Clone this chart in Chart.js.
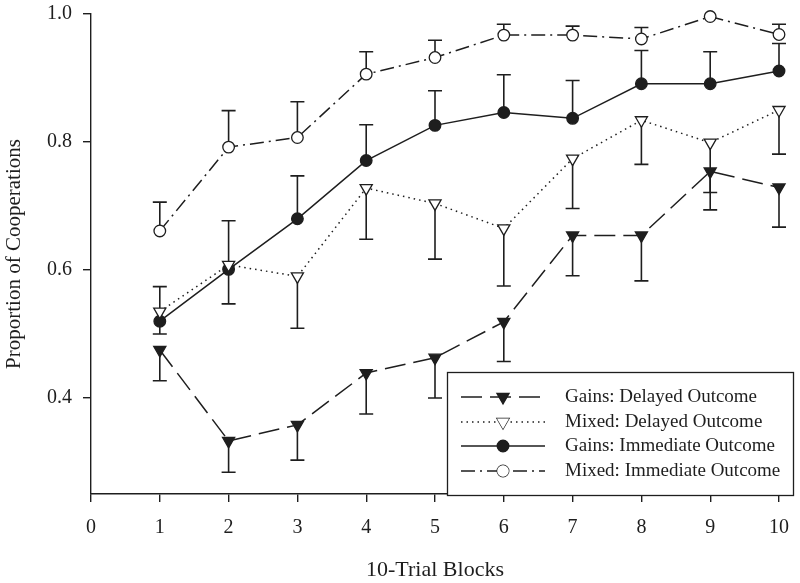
<!DOCTYPE html>
<html>
<head>
<meta charset="utf-8">
<script src="https://cdn.jsdelivr.net/npm/chart.js@4.4.1/dist/chart.umd.min.js"></script>
<style>
  html, body { margin: 0; padding: 0; background: #fff; }
  #wrap { width: 800px; height: 583px; }
</style>
</head>
<body>
<div id="wrap"><canvas id="coopChart" width="800" height="583"></canvas></div>
<script>
const blocks = [1, 2, 3, 4, 5, 6, 7, 8, 9, 10];
const xTicks = [0, 1, 2, 3, 4, 5, 6, 7, 8, 9, 10];
const yTicks = [0.4, 0.6, 0.8, 1.0];

const gainsDelayed    = [0.475, 0.333, 0.358, 0.439, 0.463, 0.519, 0.654, 0.654, 0.754, 0.729];
const gainsDelayedLow = [0.427, 0.284, 0.303, 0.375, 0.400, 0.457, 0.591, 0.583, 0.694, 0.667];

const mixedDelayed    = [0.535, 0.608, 0.590, 0.728, 0.704, 0.665, 0.774, 0.834, 0.799, 0.850];
const mixedDelayedLow = [0.500, 0.547, 0.509, 0.648, 0.617, 0.575, 0.696, 0.765, 0.721, 0.781];

const gainsImmediate     = [0.520, 0.601, 0.680, 0.771, 0.826, 0.846, 0.837, 0.891, 0.891, 0.911];
const gainsImmediateHigh = [0.574, 0.677, 0.747, 0.827, 0.880, 0.905, 0.896, 0.943, 0.941, 0.954];

const mixedImmediate     = [0.661, 0.792, 0.807, 0.906, 0.932, 0.967, 0.967, 0.961, 0.996, 0.968];
const mixedImmediateHigh = [0.706, 0.849, 0.863, 0.941, 0.959, 0.984, 0.981, 0.979, null, 0.984];

const ink = '#1e1e1e';
const serif = "'Liberation Serif', 'Times New Roman', serif";

function pts(values) {
    return blocks.map((b, i) => ({ x: b, y: values[i] }));
}

// whiskers drawn under the lines and markers
const errorBars = {
    id: 'errorBars',
    beforeDatasetsDraw(chart) {
        const ctx = chart.ctx;
        const yScale = chart.scales.y;
        ctx.save();
        ctx.strokeStyle = ink;
        ctx.lineWidth = 1.6;
        ctx.setLineDash([]);
        chart.data.datasets.forEach((ds, di) => {
            const meta = chart.getDatasetMeta(di);
            ds.errorEnds.forEach((end, i) => {
                if (end == null) return;
                const p = meta.data[i];
                const yEnd = yScale.getPixelForValue(end);
                ctx.beginPath();
                ctx.moveTo(p.x, p.y);
                ctx.lineTo(p.x, yEnd);
                ctx.moveTo(p.x - 7, yEnd);
                ctx.lineTo(p.x + 7, yEnd);
                ctx.stroke();
            });
        });
        ctx.restore();
    }
};

// boxed legend sitting over the lower right of the plot
const boxLegend = {
    id: 'boxLegend',
    afterDraw(chart) {
        const ctx = chart.ctx;
        const box = { x: 447, y: 372, w: 346, h: 123 };
        const rows = [397, 422, 446, 471];
        ctx.save();
        ctx.fillStyle = '#fff';
        ctx.fillRect(box.x, box.y, box.w, box.h);
        ctx.strokeStyle = ink;
        ctx.lineWidth = 1.3;
        ctx.strokeRect(box.x + 0.5, box.y + 0.5, box.w, box.h);
        chart.data.datasets.forEach((ds, i) => {
            const y = rows[i];
            ctx.strokeStyle = ink;
            ctx.lineWidth = ds.borderWidth;
            ctx.setLineDash(ds.borderDash || []);
            ctx.beginPath();
            ctx.moveTo(461, y);
            ctx.lineTo(545, y);
            ctx.stroke();
            ctx.setLineDash([]);
            ctx.fillStyle = ds.pointBackgroundColor;
            ctx.lineWidth = 1.3;
            Chart.helpers.drawPoint(ctx, {
                pointStyle: ds.pointStyle,
                radius: ds.pointRadius,
                rotation: ds.pointRotation || 0,
                borderWidth: 1.3
            }, 503, y);
            ctx.fill();
            ctx.fillStyle = ink;
            ctx.font = '19px ' + serif;
            ctx.textBaseline = 'middle';
            ctx.fillText(ds.label, 565, y);
        });
        ctx.restore();
    }
};

new Chart(document.getElementById('coopChart').getContext('2d'), {
    type: 'line',
    data: {
        datasets: [{
            label: 'Gains: Delayed Outcome',
            data: pts(gainsDelayed),
            errorEnds: gainsDelayedLow,
            borderColor: ink,
            borderWidth: 1.5,
            borderDash: [21, 8],
            pointStyle: 'triangle',
            pointRotation: 180,
            pointRadius: 7,
            pointBackgroundColor: ink,
            pointBorderColor: ink,
            pointBorderWidth: 1.3,
            clip: false
        }, {
            label: 'Mixed: Delayed Outcome',
            data: pts(mixedDelayed),
            errorEnds: mixedDelayedLow,
            borderColor: ink,
            borderWidth: 1.5,
            borderDash: [1.5, 4],
            pointStyle: 'triangle',
            pointRotation: 180,
            pointRadius: 7,
            pointBackgroundColor: '#fff',
            pointBorderColor: ink,
            pointBorderWidth: 1.3,
            clip: false
        }, {
            label: 'Gains: Immediate Outcome',
            data: pts(gainsImmediate),
            errorEnds: gainsImmediateHigh,
            borderColor: ink,
            borderWidth: 1.5,
            pointStyle: 'circle',
            pointRadius: 5.8,
            pointBackgroundColor: ink,
            pointBorderColor: ink,
            pointBorderWidth: 1.3,
            clip: false
        }, {
            label: 'Mixed: Immediate Outcome',
            data: pts(mixedImmediate),
            errorEnds: mixedImmediateHigh,
            borderColor: ink,
            borderWidth: 1.5,
            borderDash: [14, 5, 2, 5],
            pointStyle: 'circle',
            pointRadius: 5.8,
            pointBackgroundColor: '#fff',
            pointBorderColor: ink,
            pointBorderWidth: 1.3,
            clip: false
        }]
    },
    options: {
        responsive: false,
        animation: false,
        events: [],
        layout: { padding: { left: 0, right: 21, top: 14, bottom: 0 } },
        plugins: {
            legend: { display: false },
            tooltip: { enabled: false }
        },
        scales: {
            x: {
                type: 'linear',
                min: 0,
                max: 10,
                afterBuildTicks: s => { s.ticks = xTicks.map(v => ({ value: v })); },
                afterFit: s => { s.height = 89; s.paddingLeft = 0; s.paddingRight = 0; },
                border: { display: true, color: ink, width: 1.4 },
                grid: { drawOnChartArea: false, drawTicks: true, tickLength: 8, color: ink, lineWidth: 1.4 },
                ticks: { color: ink, padding: 14, font: { family: serif, size: 20 } },
                title: {
                    display: true,
                    text: '10-Trial Blocks',
                    color: ink,
                    padding: { top: 0, bottom: 0 },
                    font: { family: serif, size: 22 }
                }
            },
            y: {
                type: 'linear',
                min: 0.25,
                max: 1.0,
                afterBuildTicks: s => { s.ticks = yTicks.map(v => ({ value: v })); },
                afterFit: s => { s.width = 91; s.paddingTop = 0; s.paddingBottom = 0; },
                border: { display: true, color: ink, width: 1.4 },
                grid: { drawOnChartArea: false, drawTicks: true, tickLength: 8, color: ink, lineWidth: 1.4 },
                ticks: {
                    color: ink,
                    padding: 11,
                    font: { family: serif, size: 20 },
                    callback: v => v.toFixed(1)
                },
                title: {
                    display: true,
                    text: 'Proportion of Cooperations',
                    color: ink,
                    padding: { top: 2, bottom: 0 },
                    font: { family: serif, size: 21 }
                }
            }
        }
    },
    plugins: [errorBars, boxLegend]
});
</script>
</body>
</html>
